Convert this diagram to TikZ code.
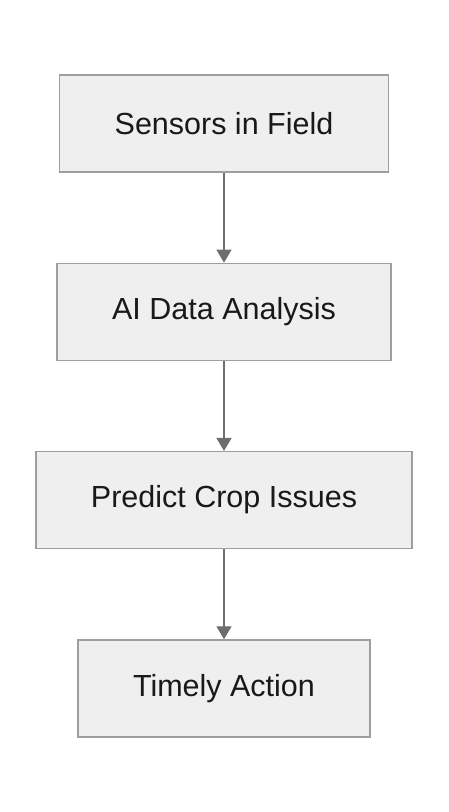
\documentclass[tikz,border=0pt]{standalone}
\usepackage{fontspec}
\setmainfont{Liberation Sans}
\usetikzlibrary{positioning,arrows.meta}
\definecolor{boxfill}{HTML}{EFEFEF}
\definecolor{boxline}{HTML}{9E9E9E}
\definecolor{arrowline}{HTML}{6E6E6E}
\begin{document}
\begin{tikzpicture}[
	x=1pt,y=1pt,
	node distance=90pt,
	stepbox/.style={rectangle,draw=boxline,fill=boxfill,line width=1.3pt,
		minimum height=97pt,inner xsep=55pt,font=\fontsize{30.5}{35}\selectfont,text=black!90},
	flow/.style={draw=arrowline,line width=1.4pt,-{Triangle[length=13pt,width=15pt]}}
	]
	\useasboundingbox (0,0) rectangle (448,-812);
	\node[stepbox] (sensors) at (224,-123.5) {Sensors in Field};
	\node[stepbox,below=of sensors] (analysis) {AI Data Analysis};
	\node[stepbox,below=of analysis] (predict) {Predict Crop Issues};
	\node[stepbox,below=of predict] (action) {Timely Action};
	% arrows
	\draw[flow] (sensors) -- (analysis);
	\draw[flow] (analysis) -- (predict);
	\draw[flow] (predict) -- (action);
\end{tikzpicture}
\end{document}
